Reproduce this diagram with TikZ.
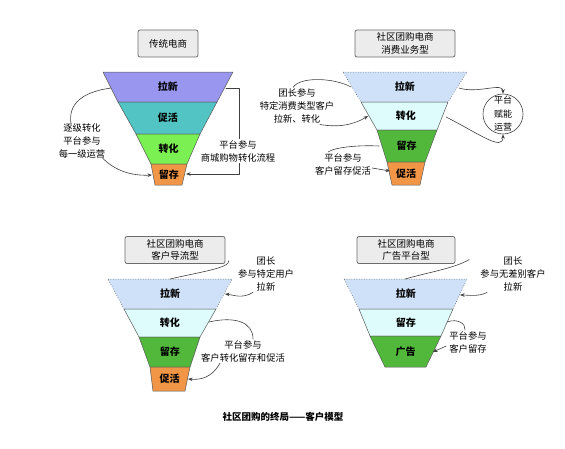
\documentclass[tikz,border=0pt]{standalone}
\usepackage{fontspec}
\newfontfamily\cjk{Noto Sans CJK SC}
\usetikzlibrary{arrows.meta}

\definecolor{lxpurple}{RGB}{152,150,238}
\definecolor{lxteal}{RGB}{82,196,196}
\definecolor{lxlime}{RGB}{122,240,82}
\definecolor{lxorange}{RGB}{240,150,70}
\definecolor{lxsky}{RGB}{206,225,248}
\definecolor{lxice}{RGB}{222,252,252}
\definecolor{lxgreen}{RGB}{82,184,60}

\tikzset{
	titlebox/.style={draw=gray!85!black, fill=gray!15, rounded corners=2pt, line width=0.8pt,
		minimum height=27pt, align=center, inner sep=1pt, font=\cjk\fontsize{9.5}{12.5}\selectfont},
	layerline/.style={draw=gray!70!black, line width=0.5pt},
	layertext/.style={font=\cjk\bfseries\fontsize{10}{12}\selectfont},
	note/.style={align=center, inner sep=1pt, font=\cjk\fontsize{9.3}{13}\selectfont},
	link/.style={draw=black!75, line width=0.6pt},
	tip/.style={link, -{Stealth[length=4.5pt,width=3.5pt]}},
}

% one band of a funnel: style, top x1 x2, top y, bottom x1 x2, bottom y, name, text
\newcommand{\funlayer}[9]{%
	\filldraw[#1] (#2,#4) -- (#3,#4) -- (#6,#7) -- (#5,#7) -- cycle;
	\node[layertext] (#8) at ({(#2+#3+#5+#6)/4},{(#4+#7)/2}) {#9};}

\begin{document}
\begin{tikzpicture}[x=1pt, y=-1pt, line cap=round, line join=round]
	\useasboundingbox (0,0) rectangle (565,448);

	% traditional e-commerce
	\node[titlebox, minimum width=60pt] (tlhead) at (168,43.5) {传统电商};
	\funlayer{fill=lxpurple, layerline}{103}{233}{72}{118}{217}{102}{tl1}{拉新}
	\funlayer{fill=lxteal, layerline}{118}{217}{102}{136}{200}{134}{tl2}{促活}
	\funlayer{fill=lxlime, layerline}{136}{200}{134}{151}{187}{164}{tl3}{转化}
	\funlayer{fill=lxorange, layerline}{151}{187}{164}{155}{182}{185}{tl4}{留存}
	\coordinate (tl1w) at (111,88);
	\coordinate (tl1e) at (226,88);
	\coordinate (tl4w) at (152,175);
	\coordinate (tl4e) at (186,174);
	\node[note] (tlnote) at (82,141) {逐级转化\\平台参与\\每一级运营};
	\draw[link] (tl1w) .. controls (82,92) and (68,104) .. ([xshift=-11pt,yshift=-1pt]tlnote.north);
	\draw[tip] ([xshift=20pt,yshift=2pt]tlnote.south) .. controls (115,171) and (132,176) .. (tl4w);
	\draw[tip] (tl1e) -- (239,88) -- (239,174) -- (tl4e);
	\node[note, fill=white] (tlright) at (238,151) {平台参与\\商城购物转化流程};

	% community group buying, consumer business
	\node[titlebox, minimum width=100pt] (trhead) at (405,43.5) {社区团购电商\\消费业务型};
	\funlayer{fill=lxsky, layerline, dotted}{343}{467}{72}{361}{448}{102}{tr1}{拉新}
	\funlayer{fill=lxice, layerline}{361}{448}{102}{377}{437}{130}{tr2}{转化}
	\funlayer{fill=lxgreen, layerline}{377}{437}{130}{387}{425}{162}{tr3}{留存}
	\funlayer{fill=lxorange, layerline}{387}{425}{162}{392}{420}{185}{tr4}{促活}
	\node[draw=black!75, line width=0.6pt, circle, inner sep=0pt, minimum size=40pt, align=center,
		font=\cjk\fontsize{9}{13.5}\selectfont] (trop) at (503,114) {平台\\赋能\\运营};
	\coordinate (tr1w) at (351,87);
	\coordinate (tr1e) at (459,88);
	\coordinate (tr2w) at (368,116);
	\coordinate (tr2e) at (446,117);
	\coordinate (tr3w) at (379,146);
	\coordinate (tr4w) at (390,171);
	\draw[tip] (tr1e) .. controls (478,94) and (503,82) .. (trop.north);
	\draw[tip] (tr2e) .. controls (478,133) and (503,152) .. (trop.south);
	\node[note] (trnote) at (297,106) {团长参与\\特定消费类型客户\\拉新、转化};
	\draw[link] ([xshift=-4pt]trnote.north) .. controls (300,76) and (335,78) .. (tr1w);
	\draw[tip] ([xshift=23pt]trnote.south) .. controls (340,128) and (355,124) .. (tr2w);
	\node[note] (trnote2) at (343,164) {平台参与\\客户留存促活};
	\draw[link] ([xshift=-15pt]trnote2.north) .. controls (335,147) and (360,145) .. (tr3w);
	\draw[tip] ([yshift=-4pt]trnote2.east) -- (tr4w);

	% community group buying, customer traffic
	\node[titlebox, minimum width=100pt] (blhead) at (175,250) {社区团购电商\\客户导流型};
	\funlayer{fill=lxsky, layerline, dotted}{108}{232}{279}{124}{216}{309}{bl1}{拉新}
	\funlayer{fill=lxice, layerline}{124}{216}{309}{139}{200}{337}{bl2}{转化}
	\funlayer{fill=lxgreen, layerline}{139}{200}{337}{150}{190}{367}{bl3}{留存}
	\funlayer{fill=lxorange, layerline}{150}{190}{367}{153}{185}{391}{bl4}{促活}
	\coordinate (bltop) at (170,279);
	\coordinate (bl1e) at (225,294);
	\coordinate (bl2e) at (209,322);
	\coordinate (bl4e) at (188,379);
	\node[note] (blnote) at (266,274) {团长\\参与特定用户\\拉新};
	\draw[link] (bltop) .. controls (200,272) and (230,268) .. ([xshift=-8pt,yshift=-5pt]blnote.north west);
	\draw[tip] ([xshift=-13pt]blnote.south) .. controls (242,299) and (234,295) .. (bl1e);
	\node[note] (blnote2) at (243,351) {平台参与\\客户转化留存和促活};
	\draw[link] (bl2e) .. controls (235,316) and (253,322) .. ([xshift=10pt]blnote2.north);
	\draw[tip] ([xshift=-23pt]blnote2.south) .. controls (212,378) and (200,380) .. (bl4e);

	% community group buying, advertising platform
	\node[titlebox, minimum width=98pt] (brhead) at (406,250) {社区团购电商\\广告平台型};
	\funlayer{fill=lxsky, layerline, dotted}{344}{467}{279}{359}{453}{309}{br1}{拉新}
	\funlayer{fill=lxice, layerline}{359}{453}{309}{370}{441}{336}{br2}{留存}
	\funlayer{fill=lxgreen, layerline}{370}{441}{336}{385}{426}{367}{br3}{广告}
	\coordinate (brtop) at (405,279);
	\coordinate (br1e) at (460,295);
	\coordinate (br2e) at (447,322);
	\coordinate (br3e) at (433,352);
	\node[note] (brnote) at (513,274) {团长\\参与无差别客户\\拉新};
	\draw[link] (brtop) .. controls (430,272) and (455,268) .. ([xshift=-10pt,yshift=-4pt]brnote.north west);
	\draw[tip] ([xshift=-26pt]brnote.south) .. controls (478,297) and (468,295) .. (br1e);
	\node[note] (brnote2) at (468,342) {平台参与\\客户留存};
	\draw[link] (br2e) .. controls (458,318) and (466,324) .. ([xshift=-3pt]brnote2.north);
	\draw[tip] ([xshift=-2pt,yshift=-4pt]brnote2.west) -- (br3e);

	\node[font=\cjk\bfseries\fontsize{9.5}{12}\selectfont] (caption) at (283,417) {社区团购的终局——客户模型};
\end{tikzpicture}
\end{document}
